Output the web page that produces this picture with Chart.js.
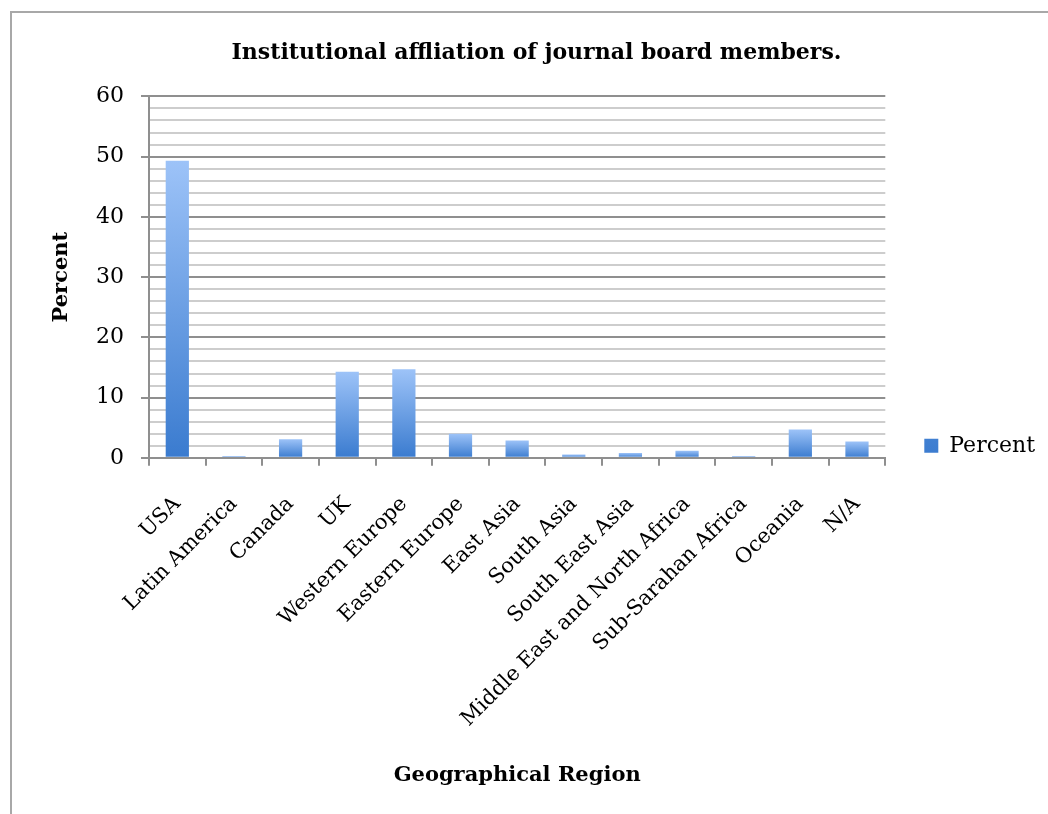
<!DOCTYPE html>
<html>
<head>
<meta charset="utf-8">
<script src="https://cdn.jsdelivr.net/npm/chart.js@4.4.1/dist/chart.umd.min.js"></script>
<style>
  html, body { margin: 0; padding: 0; background: #fff; overflow: hidden; }
  #frame { position: absolute; left: 10px; top: 11px; width: 1100px; height: 900px;
           border-top: 2px solid #a8a8a8; border-left: 2px solid #a8a8a8; }
  #chart { position: absolute; left: 0; top: 0; }
</style>
</head>
<body>
<div id="frame"></div>
<canvas id="chart" width="1048" height="814"></canvas>
<script>
// data
var regions = ['USA', 'Latin America', 'Canada', 'UK', 'Western Europe', 'Eastern Europe',
               'East Asia', 'South Asia', 'South East Asia', 'Middle East and North Africa',
               'Sub-Sarahan Africa', 'Oceania', 'N/A'];
var percent = [49.3, 0.3, 3.1, 14.3, 14.7, 4.0, 2.9, 0.55, 0.8, 1.2, 0.3, 4.7, 2.7];
var yMin = 0, yMax = 60, yStep = 2, yLabelEvery = 10;

var serif = "'DejaVu Serif', 'Liberation Serif', serif";
var majorGrey = '#8f8f8f';
var minorGrey = '#cdcdcd';

function barFill(context) {
    var chart = context.chart;
    if (context.type !== 'data' || !chart.chartArea) {
        // legend swatch
        var lg = chart.ctx.createLinearGradient(0, 438, 0, 452);
        lg.addColorStop(0, '#8fb8f2');
        lg.addColorStop(1, '#3f7fd1');
        return lg;
    }
    var y = chart.scales.y;
    var top = y.getPixelForValue(context.raw);
    var base = y.getPixelForValue(0);
    var g = chart.ctx.createLinearGradient(0, top, 0, base);
    g.addColorStop(0, '#9dc3f8');
    g.addColorStop(1, '#3a7bcf');
    return g;
}

// excel puts the legend low on the right, nudge chart.js's legend down
var legendNudge = {
    id: 'legendNudge',
    afterLayout: function(chart) {
        chart.legend.top += 38;
        chart.legend.bottom += 38;
    }
};

var ctx = document.getElementById('chart');

var myChart = new Chart(ctx, {
    type: 'bar',
    data: {
        labels: regions,
        datasets: [{
            label: 'Percent',
            data: percent,
            backgroundColor: barFill,
            borderWidth: 0,
            categoryPercentage: 1.0,
            barPercentage: 0.41
        }]
    },
    options: {
        responsive: false,
        animation: false,
        layout: { padding: { left: 28, right: 3, top: 0, bottom: 26 } },
        plugins: {
            title: {
                display: true,
                text: 'Institutional affliation of journal board members.',
                color: '#000',
                font: { family: serif, size: 22, weight: 'bold' },
                padding: { top: 40, bottom: 30 }
            },
            legend: {
                display: true,
                position: 'right',
                align: 'end',
                fullSize: false,
                labels: {
                    color: '#000',
                    font: { family: serif, size: 22 },
                    boxWidth: 14,
                    boxHeight: 14,
                    padding: 39
                }
            },
            tooltip: { enabled: false }
        },
        scales: {
            x: {
                grid: {
                    display: true,
                    drawOnChartArea: false,
                    offset: true,
                    tickLength: 8,
                    color: majorGrey,
                    lineWidth: 2
                },
                border: { color: majorGrey, width: 2 },
                ticks: {
                    color: '#000',
                    font: { family: serif, size: 21 },
                    minRotation: 45,
                    maxRotation: 45,
                    autoSkip: false,
                    padding: 26
                },
                title: {
                    display: true,
                    text: 'Geographical Region',
                    color: '#000',
                    font: { family: serif, size: 21, weight: 'bold' },
                    padding: { top: 5, bottom: 0 }
                }
            },
            y: {
                min: yMin,
                max: yMax,
                grid: {
                    color: function(c) { return c.tick.value % yLabelEvery === 0 ? majorGrey : minorGrey; },
                    tickColor: function(c) { return c.tick.value % yLabelEvery === 0 ? majorGrey : 'rgba(0,0,0,0)'; },
                    lineWidth: 2,
                    tickLength: 8
                },
                border: { color: majorGrey, width: 2 },
                ticks: {
                    stepSize: yStep,
                    autoSkip: false,
                    color: '#000',
                    font: { family: serif, size: 22 },
                    padding: 17,
                    callback: function(v) { return v % yLabelEvery === 0 ? v : ''; }
                },
                title: {
                    display: true,
                    text: 'Percent',
                    color: '#000',
                    font: { family: serif, size: 21, weight: 'bold', lineHeight: 1.0 },
                    padding: { top: 23, bottom: 7 }
                }
            }
        }
    },
    plugins: [legendNudge]
});
</script>
</body>
</html>
